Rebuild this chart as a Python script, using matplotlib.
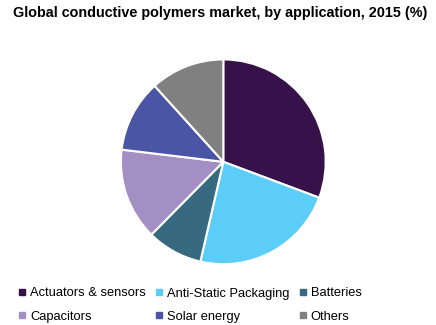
import matplotlib.pyplot as plt
from matplotlib.lines import Line2D

categories = ['Actuators & sensors', 'Anti-Static Packaging', 'Batteries',
              'Capacitors', 'Solar energy', 'Others']
shares = [30.7, 22.9, 8.8, 14.5, 11.4, 11.7]
colors = ['#37114a', '#5bcdf8', '#376a80', '#a48fc5', '#4a55a5', '#808080']

plt.rcParams['font.family'] = ['Liberation Sans', 'DejaVu Sans']

fig = plt.figure(figsize=(4.36, 3.25), dpi=100)

# pie area
ax = fig.add_axes([0.2773, 0.1871, 0.4697, 0.630])
ax.pie(shares, colors=colors, startangle=90, counterclock=False,
       wedgeprops=dict(edgecolor='white', linewidth=1.5))
ax.set_xlim(-1, 1)
ax.set_ylim(-1, 1)
ax.set_aspect('auto')

fig.text(0.505, 1 - 13 / 325, 'Global conductive polymers market, by application, 2015 (%)',
         ha='center', va='center', fontsize=10.4, fontweight='bold')

# legend fills column by column, so reorder to read row by row
order = [0, 3, 1, 4, 2, 5]
handles = [Line2D([], [], marker='s', linestyle='none', markersize=4,
                  markerfacecolor=colors[i], markeredgecolor=colors[i]) for i in order]
labels = [categories[i] for i in order]
fig.legend(handles, labels, ncol=3, loc='upper left',
           bbox_to_anchor=(12 / 436, 1 - 281 / 325), frameon=False,
           fontsize=9.3, handlelength=0.6, handletextpad=0.3,
           columnspacing=0.75, labelspacing=0.85, borderpad=0)

fig.savefig('out.png', dpi=100)
